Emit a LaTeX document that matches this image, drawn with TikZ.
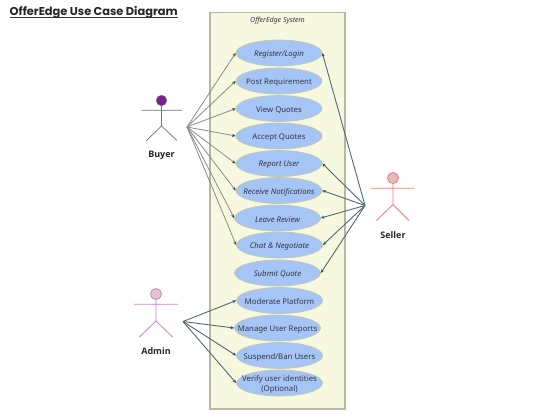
\documentclass[tikz,border=0pt]{standalone}
\usepackage{fontspec}
\setmainfont{Noto Sans}
\newfontfamily\titlefont{Poppins}
\newfontfamily\labelfont{Open Sans}
\usetikzlibrary{shapes.geometric,arrows.meta}
\definecolor{sysfill}{HTML}{F6F8DF}
\definecolor{sysline}{HTML}{B5B8A5}
\definecolor{ucfill}{HTML}{A6C5F7}
\definecolor{ucline}{HTML}{C6C6A8}
\definecolor{txt}{HTML}{33363F}
\definecolor{grayline}{HTML}{8C8C84}
\definecolor{slateline}{HTML}{4F6B78}
\definecolor{buyerhead}{HTML}{7A1F8F}
\definecolor{sellerhead}{HTML}{E3BDBD}
\definecolor{adminhead}{HTML}{E6C6CE}
\definecolor{adminline}{HTML}{B07FBE}
\definecolor{adminlimb}{HTML}{C87FD6}
\tikzset{
  uc/.style={ellipse,draw=ucline,fill=ucfill,line width=.7pt,minimum width=86pt,minimum height=26pt,inner sep=0pt},
  uctxt/.style={inner sep=0pt,yshift=-1.5pt,text=txt,font=\fontsize{7.8}{10.8}\selectfont,align=center},
  ucittxt/.style={uctxt,font=\fontsize{7.8}{10.8}\selectfont\itshape},
  actorlabel/.style={font=\labelfont\fontsize{9}{11}\selectfont\bfseries,text=txt!70!black,inner sep=0pt},
  buyerlink/.style={draw=grayline,line width=.8pt,-{Stealth[length=3.6pt,width=3pt,color=black!75]}},
  slatelink/.style={draw=slateline,line width=.9pt,-{Stealth[length=3.6pt,width=3pt,color=slateline!70!black]}},
  headb/.style={circle,draw=black!55,fill=buyerhead,inner sep=0pt,minimum size=10.5pt,line width=.5pt},
  heads/.style={circle,draw=red!60,fill=sellerhead,inner sep=0pt,minimum size=11pt,line width=.7pt},
  heada/.style={circle,draw=adminline,fill=adminhead,inner sep=0pt,minimum size=11pt,line width=.7pt},
}
\begin{document}
\begin{tikzpicture}[x=1pt,y=-1pt]
\useasboundingbox (0,0) rectangle (534,416);
\fill[white] (0,0) rectangle (534,416);
% title
\node[anchor=west,inner sep=0pt,text=black!85,font=\titlefont\fontsize{11.4}{13}\selectfont\bfseries] (title) at (9.5,12.5) {OfferEdge Use Case Diagram};
\draw[black!80,line width=1pt] (title.west |- 0,17.3) -- (title.east |- 0,17.3);
% system
\node[draw=sysline,fill=sysfill,line width=1.8pt,minimum width=135pt,minimum height=396.5pt,inner sep=0pt] (sys) at (277.5,210.7) {};
\node[inner sep=0pt,text=txt,font=\fontsize{7}{9}\selectfont\itshape] (systitle) at (277.5,20.5) {OfferEdge System};
% use cases
\node[uc,label={[ucittxt]center:Register/Login}] (reg) at (279,53) {};
\node[uc,label={[uctxt]center:Post Requirement}] (post) at (279,81) {};
\node[uc,label={[uctxt]center:View Quotes}] (view) at (279,108.5) {};
\node[uc,label={[uctxt]center:Accept Quotes}] (accept) at (279,136) {};
\node[uc,label={[ucittxt]center:Report User}] (report) at (279,163.5) {};
\node[uc,label={[ucittxt]center:Receive Notifications}] (notif) at (279,190.5) {};
\node[uc,label={[ucittxt]center:Leave Review}] (review) at (277.5,218) {};
\node[uc,label={[ucittxt]center:Chat \&\ Negotiate}] (chat) at (279.5,245) {};
\node[uc,label={[ucittxt]center:Submit Quote}] (submit) at (277.5,273) {};
\node[uc,label={[uctxt]center:Moderate Platform}] (moder) at (279.5,300.5) {};
\node[uc,label={[uctxt]center:Manage User Reports}] (manage) at (277.5,328) {};
\node[uc,label={[uctxt]center:Suspend/Ban Users}] (suspend) at (279.5,355.5) {};
\node[uc,label={[uctxt]center:Verify user identities\\(Optional)}] (verify) at (279.5,383) {};
% buyer
\node[headb] (bh) at (161.5,100.5) {};
\coordinate (bn) at (161.5,126);
\coordinate (bhub) at (187,127);
\draw[black!55,line width=.7pt] (bh) -- (bn) (141.5,110.3) -- (182,110.3) (146.5,140.5) -- (bn) -- (177,140.5);
\node[actorlabel] (bl) at (161.5,155) {Buyer};
% seller
\node[heads] (sh) at (393,178) {};
\coordinate (sn) at (393,204.5);
\coordinate (shub) at (365,205.5);
\draw[red!55!white,line width=.8pt] (sh) -- (sn) (371,188.3) -- (414,188.3) (376.5,220.5) -- (sn) -- (409,220.5);
\node[actorlabel] (sl) at (393,235.5) {Seller};
% admin
\node[heada] (ah) at (156,294) {};
\coordinate (an) at (156,321);
\coordinate (ahub) at (183,321.5);
\draw[adminlimb,line width=.8pt] (ah) -- (an) (134,304.3) -- (178,304.3) (139.5,337) -- (an) -- (172.5,337);
\node[actorlabel] (al) at (156,351.5) {Admin};
% links
\foreach \t in {reg,post,view,accept,report,notif,review,chat}
  \draw[buyerlink] (bhub) -- (\t.west);
\foreach \t in {reg,report,notif,review,chat,submit}
  \draw[slatelink] (shub) -- (\t.east);
\foreach \t in {moder,manage,suspend,verify}
  \draw[slatelink] (ahub) -- (\t.west);
\end{tikzpicture}
\end{document}
